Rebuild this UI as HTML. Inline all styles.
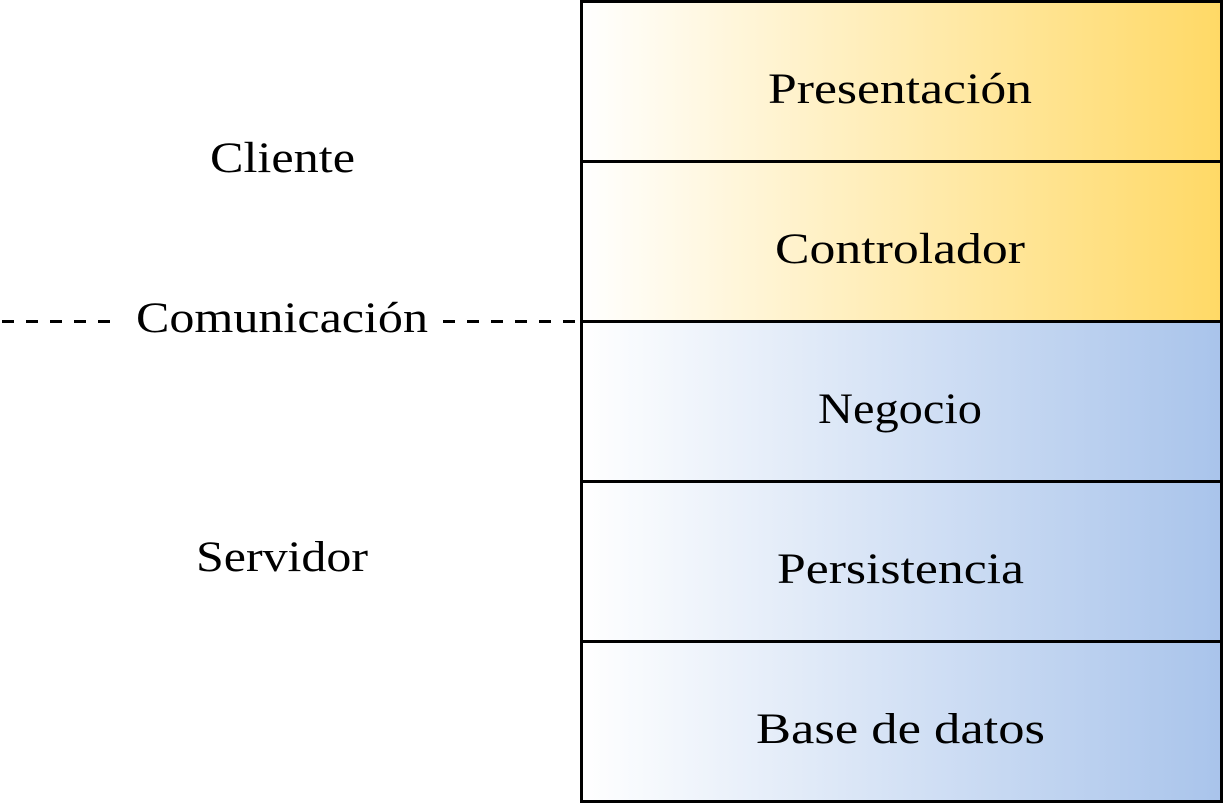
<!DOCTYPE html>
<html><head><meta charset="utf-8"><style>html,body{margin:0;padding:0;background:#fff}</style></head>
<body>
<svg width="1224" height="804" viewBox="0 0 1224 804" xmlns="http://www.w3.org/2000/svg" font-family="Liberation Serif, serif" font-size="43">
<defs>
<linearGradient id="y" x1="0" x2="1" y1="0" y2="0"><stop offset="0" stop-color="#ffffff"/><stop offset="1" stop-color="#ffd966"/></linearGradient>
<linearGradient id="b" x1="0" x2="1" y1="0" y2="0"><stop offset="0" stop-color="#ffffff"/><stop offset="1" stop-color="#a9c4eb"/></linearGradient>
</defs>
<rect x="581.5" y="1.5" width="640" height="320" fill="url(#y)"/>
<rect x="581.5" y="321.5" width="640" height="480" fill="url(#b)"/>
<g stroke="#000" stroke-width="3" fill="none">
<rect x="581.5" y="1.5" width="640" height="800"/>
<line x1="581" y1="161.5" x2="1222" y2="161.5"/>
<line x1="581" y1="321.5" x2="1222" y2="321.5"/>
<line x1="581" y1="481.5" x2="1222" y2="481.5"/>
<line x1="581" y1="641.5" x2="1222" y2="641.5"/>
<line x1="2" y1="321.5" x2="110" y2="321.5" stroke-dasharray="12 12"/>
<line x1="443" y1="321.5" x2="581" y2="321.5" stroke-dasharray="12 12"/>
</g>
<g fill="#000" lengthAdjust="spacingAndGlyphs">
<text x="768" y="103" textLength="264" lengthAdjust="spacingAndGlyphs">Presentación</text>
<text x="775" y="263" textLength="250" lengthAdjust="spacingAndGlyphs">Controlador</text>
<text x="818" y="423" textLength="164" lengthAdjust="spacingAndGlyphs">Negocio</text>
<text x="777" y="583" textLength="247" lengthAdjust="spacingAndGlyphs">Persistencia</text>
<text x="756" y="743" textLength="289" lengthAdjust="spacingAndGlyphs">Base de datos</text>
<text x="210" y="172" textLength="145" lengthAdjust="spacingAndGlyphs">Cliente</text>
<text x="136" y="332" textLength="292" lengthAdjust="spacingAndGlyphs">Comunicación</text>
<text x="196" y="571" textLength="172" lengthAdjust="spacingAndGlyphs">Servidor</text>
</g>
</svg>
</body></html>
